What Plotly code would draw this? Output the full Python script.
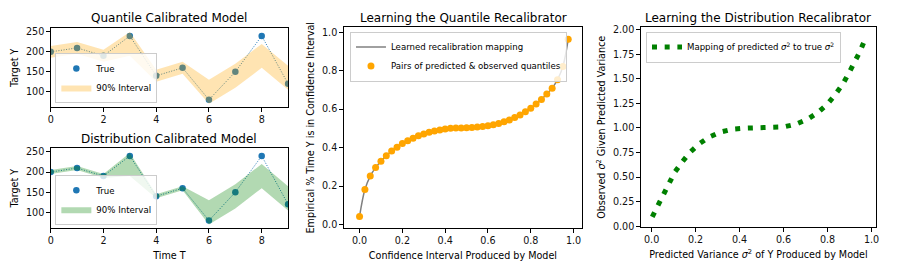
import plotly.graph_objects as go

# ---------------- data ----------------
t = [0, 1, 2, 3, 4, 5, 6, 7, 8, 9]
y_true = [200, 210, 190, 240, 140, 160, 80, 150, 240, 120]

q_upper = [215, 225, 205, 250, 155, 175, 130, 170, 220, 165]
q_lower = [185, 195, 175, 190, 125, 145, 70, 110, 160, 105]

d_upper = [205, 215, 195, 247, 145, 165, 130, 170, 220, 165]
d_lower = [195, 205, 185, 190, 135, 155, 70, 110, 160, 105]

conf_pred = [0.000, 0.025, 0.050, 0.075, 0.100, 0.125, 0.150, 0.175, 0.200, 0.225,
             0.250, 0.275, 0.300, 0.325, 0.350, 0.375, 0.400, 0.425, 0.450, 0.475,
             0.500, 0.525, 0.550, 0.575, 0.600, 0.625, 0.650, 0.675, 0.700, 0.725,
             0.750, 0.775, 0.800, 0.825, 0.850, 0.875, 0.900, 0.925, 0.950, 0.975]
conf_obs = [0.042, 0.182, 0.252, 0.296, 0.329, 0.358, 0.382, 0.402, 0.421, 0.436,
            0.449, 0.461, 0.471, 0.480, 0.486, 0.492, 0.497, 0.500, 0.502, 0.502,
            0.503, 0.505, 0.507, 0.510, 0.514, 0.519, 0.525, 0.534, 0.544, 0.556,
            0.569, 0.586, 0.605, 0.627, 0.650, 0.679, 0.709, 0.753, 0.821, 0.963]

var_pred = [0.003, 0.029, 0.051, 0.077, 0.105, 0.138, 0.174, 0.215, 0.263, 0.315,
            0.371, 0.428, 0.485, 0.542, 0.600, 0.656, 0.709, 0.755, 0.800, 0.835,
            0.869, 0.896, 0.922, 0.947, 0.970]
var_obs = [0.096, 0.212, 0.331, 0.440, 0.549, 0.651, 0.750, 0.836, 0.909, 0.959,
           0.988, 0.998, 0.998, 0.998, 1.010, 1.038, 1.088, 1.154, 1.243, 1.339,
           1.445, 1.554, 1.663, 1.775, 1.898]

left_xticks = [0, 2, 4, 6, 8]
left_yticks = [100, 150, 200, 250]
unit_ticks = [0.0, 0.2, 0.4, 0.6, 0.8, 1.0]
var_yticks = [0.0, 0.25, 0.5, 0.75, 1.0, 1.25, 1.5, 1.75, 2.0]

# ---------------- figure ----------------
W, H = 899, 277
FONT = "DejaVu Sans"
BLUE = "#1f77b4"
TS = 12     # title size
LS = 9.6    # axis label / tick size
GS = 8.6    # legend size

fig = go.Figure()

def add_ts_panel(xa, ya, upper, lower, fill_rgba, legend_name):
    fig.add_trace(go.Scatter(x=t, y=y_true, mode="lines", xaxis=xa, yaxis=ya,
                             line=dict(color=BLUE, width=1, dash="1px,1.6px"),
                             showlegend=False, hoverinfo="skip"))
    fig.add_trace(go.Scatter(x=t, y=y_true, mode="markers", xaxis=xa, yaxis=ya,
                             marker=dict(color=BLUE, size=6.5, line=dict(width=0)),
                             name="True", legend=legend_name))
    fig.add_trace(go.Scatter(x=t, y=lower, mode="lines", xaxis=xa, yaxis=ya,
                             line=dict(width=0, color=fill_rgba),
                             showlegend=False, hoverinfo="skip"))
    fig.add_trace(go.Scatter(x=t, y=upper, mode="lines", xaxis=xa, yaxis=ya,
                             line=dict(width=0, color=fill_rgba),
                             fill="tonexty", fillcolor=fill_rgba,
                             name="90% Interval", legend=legend_name))

add_ts_panel("x", "y", q_upper, q_lower, "rgba(255,165,0,0.3)", "legend")
add_ts_panel("x2", "y2", d_upper, d_lower, "rgba(0,128,0,0.3)", "legend2")

# middle panel
fig.add_trace(go.Scatter(x=conf_pred, y=conf_obs, mode="lines", xaxis="x3", yaxis="y3",
                         line=dict(color="gray", width=1.5, shape="spline"),
                         name="Learned recalibration mapping", legend="legend3"))
fig.add_trace(go.Scatter(x=conf_pred, y=conf_obs, mode="markers", xaxis="x3", yaxis="y3",
                         marker=dict(color="orange", size=7, line=dict(width=0)),
                         name="Pairs of predicted &amp; observed quantiles", legend="legend3"))

# right panel
fig.add_trace(go.Scatter(x=var_pred, y=var_obs, mode="lines", xaxis="x4", yaxis="y4",
                         line=dict(color="green", width=5, dash="5px,7.7px"),
                         name="Mapping of predicted <i>σ</i><sup>2</sup> to true <i>σ</i><sup>2</sup>",
                         legend="legend4"))

def px_x(a, b):
    return [a / W, b / W]

def px_y(top, bottom):
    return [1 - bottom / H, 1 - top / H]

axis_common = dict(showline=True, mirror=True, linecolor="black", linewidth=1,
                   ticks="outside", ticklen=3.5, tickwidth=1, tickcolor="black",
                   showgrid=False, zeroline=False,
                   tickfont=dict(family=FONT, size=LS, color="#111"))

def atitle(text, standoff):
    return dict(text=text, standoff=standoff, font=dict(family=FONT, size=LS, color="black"))

fig.update_layout(
    width=W, height=H, autosize=False,
    margin=dict(l=0, r=0, t=0, b=0),
    paper_bgcolor="white", plot_bgcolor="white",
    font=dict(family=FONT, color="black"),
    xaxis=dict(domain=px_x(48, 287), range=[0, 9], tickvals=left_xticks, anchor="y", **axis_common),
    yaxis=dict(domain=px_y(26, 107), range=[61, 259], tickvals=left_yticks, anchor="x",
               title=atitle("Target Y", 5), **axis_common),
    xaxis2=dict(domain=px_x(48, 287), range=[0, 9], tickvals=left_xticks, anchor="y2",
                title=atitle("Time T", 7), **axis_common),
    yaxis2=dict(domain=px_y(149, 231), range=[61, 259], tickvals=left_yticks, anchor="x2",
                title=atitle("Target Y", 5), **axis_common),
    xaxis3=dict(domain=px_x(343, 583), range=[-0.074, 1.040], tickvals=unit_ticks,
                tickformat=".1f", anchor="y3",
                title=atitle("Confidence Interval Produced by Model", 7), **axis_common),
    yaxis3=dict(domain=px_y(25, 231), range=[-0.019, 1.025], tickvals=unit_ticks,
                tickformat=".1f", anchor="x3",
                title=atitle("Empirical % Time Y is in Confidence Interval", 5), **axis_common),
    xaxis4=dict(domain=px_x(642, 879), range=[-0.0495, 1.021], tickvals=unit_ticks,
                tickformat=".1f", anchor="y4",
                title=atitle("Predicted Variance <i>σ</i><sup>2</sup> of Y Produced by Model", 7),
                **axis_common),
    yaxis4=dict(domain=px_y(25, 230), range=[-0.01, 2.023], tickvals=var_yticks,
                tickformat=".2f", anchor="x4",
                title=atitle("Observed <i>σ</i><sup>2</sup> Given Predicted Variance", 5),
                **axis_common),
)

leg_common = dict(bgcolor="rgba(255,255,255,0.8)", bordercolor="#cccccc", borderwidth=1,
                  font=dict(family=FONT, size=GS, color="black"), itemwidth=30,
                  xanchor="left", traceorder="normal")
fig.update_layout(
    legend=dict(x=52.7 / W, y=1 - 102.5 / H, yanchor="bottom", **leg_common),
    legend2=dict(x=52.7 / W, y=1 - 227.5 / H, yanchor="bottom", **leg_common),
    legend3=dict(x=349.3 / W, y=1 - 29.3 / H, yanchor="top", **leg_common),
    legend4=dict(x=647.3 / W, y=1 - 29.3 / H, yanchor="top", **leg_common),
)

def ann(text, xpx, ypx, size):
    fig.add_annotation(text=text, x=xpx / W, y=1 - ypx / H, xref="paper", yref="paper",
                       showarrow=False, xanchor="center", yanchor="middle",
                       font=dict(family=FONT, size=size, color="black"))

ann("Quantile Calibrated Model", 167.5, 15, TS)
ann("Distribution Calibrated Model", 167.5, 139.3, TS)
ann("Learning the Quantile Recalibrator", 463.5, 15.5, TS)
ann("Learning the Distribution Recalibrator", 760.5, 15.5, TS)

fig.write_html("out.html", config={"displayModeBar": False},
               post_script="document.body.style.margin='0px';document.body.style.overflow='hidden';")
